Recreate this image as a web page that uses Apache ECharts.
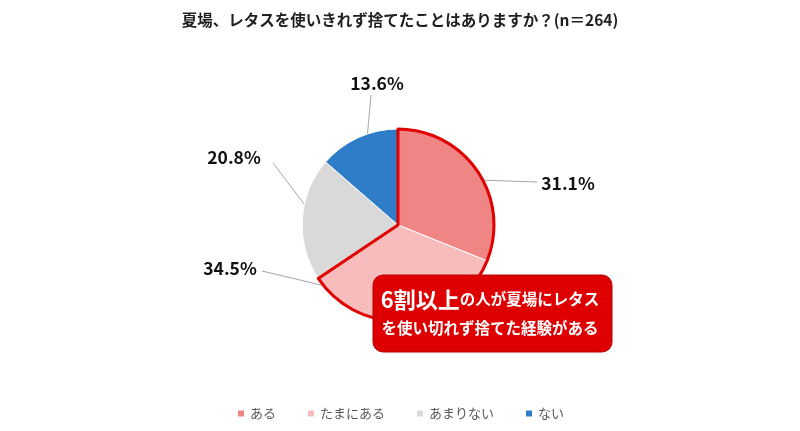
<!DOCTYPE html>
<html><head><meta charset="utf-8">
<script src="https://cdn.jsdelivr.net/npm/echarts@6/dist/echarts.min.js"></script>
<style>html,body{margin:0;padding:0;background:#fff}#c{width:800px;height:431px}</style>
</head><body><div id="c"></div>
<script>
var categories = ['ある', 'たまにある', 'あまりない', 'ない'];
var values = [31.1, 34.5, 20.8, 13.6];
var colors = ['#F08585', '#F8BCBC', '#D9D9D9', '#2F7DC9'];
var titleText = '夏場、レタスを使いきれず捨てたことはありますか？(n＝264)';
var highlightCount = 2;

var hiSum = values.slice(0, highlightCount).reduce(function(a, b){return a + b;}, 0);
var restSum = values.slice(highlightCount).reduce(function(a, b){return a + b;}, 0);
// label placement (style)
var labelPos = [[568, 183], [230, 268], [234, 157], [377, 83]];
var leader = [
  [[537, 182], [478, 180]],
  [[262, 271], [380, 299]],
  [[273, 163], [317, 221]],
  [[371, 95], [366, 150]]
];

var chart = echarts.init(document.getElementById('c'));
chart.setOption({
  animation: false,
  title: {text: titleText, left: 'center', top: 7,
    textStyle: {fontSize: 15.5, fontWeight: 'bold', color: '#1f1f1f', fontFamily: 'Noto Sans CJK JP'}},
  legend: {bottom: 6, left: 'center', itemWidth: 8, itemHeight: 8, itemGap: 30, icon: 'rect',
    textStyle: {fontSize: 13, color: '#595959', fontFamily: 'Noto Sans CJK JP'},
    data: categories},
  color: colors,
  series: [{
    type: 'pie', center: [398, 225], radius: 96, startAngle: 90, clockwise: true,
    itemStyle: {borderColor: '#fff', borderWidth: 1},
    label: {show: true, formatter: function(p){return p.value.toFixed(1) + '%';},
      fontSize: 17.5, fontWeight: 'bold', color: '#111', fontFamily: 'Noto Sans CJK JP'},
    labelLine: {show: true, length: 15, length2: 20, lineStyle: {color: '#A6A6A6', width: 1}},
    labelLayout: function(p){
      var i = p.dataIndex;
      var pos = labelPos[i];
      var l = leader[i];
      var mid = [(l[0][0] + l[1][0]) / 2, (l[0][1] + l[1][1]) / 2];
      return {x: pos[0], y: pos[1], align: 'center', verticalAlign: 'middle',
        labelLinePoints: [l[0], mid, l[1]]};
    },
    emphasis: {disabled: true},
    data: categories.map(function(c, i){return {name: c, value: values[i]};})
  }, {
    type: 'pie', center: [398, 225], radius: 96, startAngle: 90, clockwise: true,
    silent: true, label: {show: false}, labelLine: {show: false}, legendHoverLink: false,
    emphasis: {disabled: true}, z: 3,
    data: [
      {name: '_hi', value: hiSum, itemStyle: {color: 'rgba(0,0,0,0)', borderColor: '#E00000', borderWidth: 3, borderJoin: 'round'}},
      {name: '_rest', value: restSum, itemStyle: {color: 'rgba(0,0,0,0)', borderWidth: 0}}
    ]
  }],
  graphic: [{
    type: 'rect', shape: {x: 373, y: 275, width: 239, height: 77, r: 10},
    style: {fill: '#DE0000', stroke: '#B80000', lineWidth: 1}, z: 10
  }, {
    type: 'text', x: 490, y: 314, z: 11,
    style: {
      text: '{b|6割以上}{s|の人が夏場にレタス}\n{s|を使い切れず捨てた経験がある}',
      align: 'center', verticalAlign: 'middle', fill: '#fff',
      fontFamily: 'Noto Sans CJK JP',
      rich: {
        b: {fontSize: 22, fontWeight: 'bold', fill: '#fff', lineHeight: 29, fontFamily: 'Noto Sans CJK JP'},
        s: {fontSize: 15.5, fontWeight: 'bold', fill: '#fff', lineHeight: 29, fontFamily: 'Noto Sans CJK JP'}
      }
    }
  }]
});
</script></body></html>
